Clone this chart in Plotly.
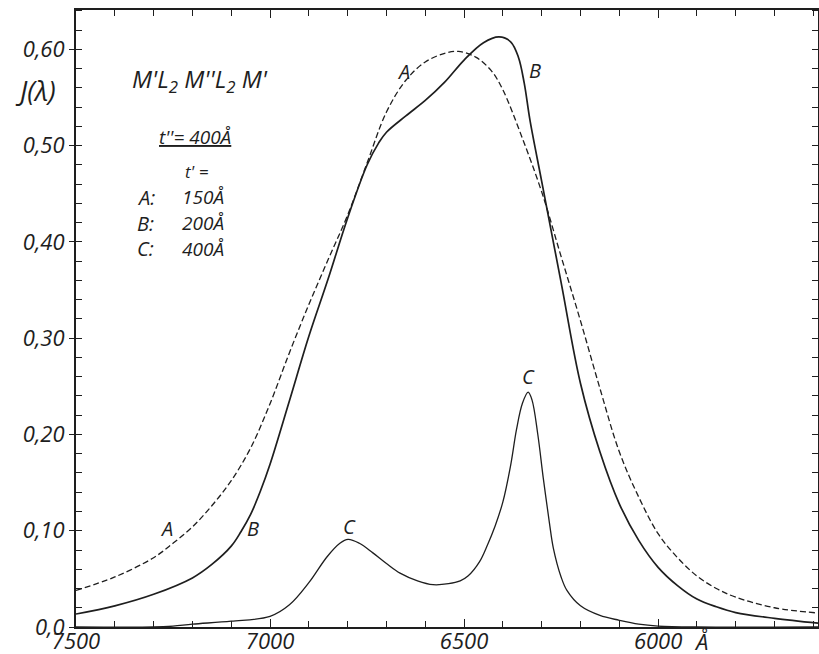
import plotly.graph_objects as go

# ---- data (wavelength in Å, intensity J) ----
lam_A = [7500, 7400, 7300, 7250, 7200, 7150, 7100, 7050, 7000, 6950, 6900, 6850, 6800, 6750,
         6700, 6650, 6600, 6550, 6515, 6470, 6430, 6400, 6350, 6300, 6250, 6200, 6150, 6100,
         6050, 6000, 5950, 5900, 5850, 5800, 5700, 5588]
J_A = [0.038, 0.052, 0.072, 0.087, 0.104, 0.126, 0.152, 0.186, 0.232, 0.285, 0.335, 0.382, 0.428, 0.482,
       0.535, 0.568, 0.587, 0.596, 0.598, 0.592, 0.578, 0.558, 0.508, 0.452, 0.385, 0.318, 0.248, 0.182,
       0.135, 0.097, 0.072, 0.053, 0.040, 0.031, 0.020, 0.0145]

lam_B = [7500, 7400, 7300, 7200, 7150, 7100, 7075, 7050, 7025, 7000, 6950, 6900, 6850, 6800, 6750, 6720,
         6700, 6650, 6600, 6550, 6500, 6450, 6410, 6380, 6360, 6345, 6330, 6300, 6250, 6200,
         6150, 6100, 6050, 6000, 5950, 5900, 5850, 5800, 5700, 5588]
J_B = [0.0135, 0.022, 0.034, 0.051, 0.065, 0.084, 0.099, 0.117, 0.141, 0.169, 0.235, 0.302, 0.362, 0.425, 0.480, 0.503,
       0.514, 0.531, 0.547, 0.566, 0.589, 0.607, 0.613, 0.608, 0.592, 0.565, 0.526, 0.463, 0.358, 0.253,
       0.182, 0.128, 0.090, 0.062, 0.043, 0.029, 0.021, 0.015, 0.009, 0.004]

lam_C = [7500, 7300, 7250, 7200, 7100, 7000, 6950, 6900, 6853, 6820, 6799, 6770, 6735, 6700,
         6665, 6620, 6580, 6540, 6510, 6490, 6460, 6440, 6420, 6400, 6380, 6365, 6350, 6335,
         6325, 6310, 6296, 6280, 6270, 6250, 6235, 6200, 6150, 6100, 6050, 6000, 5900, 5588]
J_C = [0.0, 0.0, 0.001, 0.003, 0.006, 0.011, 0.023, 0.046, 0.073, 0.087, 0.091, 0.087, 0.077, 0.066,
       0.056, 0.048, 0.044, 0.045, 0.048, 0.053, 0.068, 0.085, 0.105, 0.130, 0.168, 0.205, 0.232, 0.244,
       0.236, 0.200, 0.155, 0.108, 0.082, 0.052, 0.038, 0.022, 0.012, 0.007, 0.003, 0.001, 0.0, 0.0]

y_ticks = [0.0, 0.1, 0.2, 0.3, 0.4, 0.5, 0.6]
y_ticklabels = ["0,0", "0,10", "0,20", "0,30", "0,40", "0,50", "0,60"]
x_ticks = [7500, 7000, 6500, 6000]
x_ticklabels = ["7500", "7000", "6500", "6000"]

FONT = "Open Sans, DejaVu Sans"
INK = "#1e1e1e"

fig = go.Figure()
fig.add_trace(go.Scatter(x=lam_A, y=J_A, mode="lines", name="A",
                         line=dict(color=INK, width=1.3, dash="6px,3px", shape="spline", smoothing=1.0)))
fig.add_trace(go.Scatter(x=lam_B, y=J_B, mode="lines", name="B",
                         line=dict(color=INK, width=1.7, shape="spline", smoothing=1.0)))
fig.add_trace(go.Scatter(x=lam_C, y=J_C, mode="lines", name="C",
                         line=dict(color=INK, width=1.3, shape="spline", smoothing=1.0)))

tickfont = dict(family=FONT, size=22, color=INK, style="italic")

fig.update_xaxes(range=[7500, 5588], autorange=False, automargin=False,
                 tickmode="array", tickvals=x_ticks, ticktext=x_ticklabels,
                 ticks="inside", ticklen=8, tickwidth=1.2, tickcolor=INK,
                 minor=dict(tickmode="linear", tick0=7500, dtick=100, ticks="inside", ticklen=6,
                            tickwidth=1.2, tickcolor=INK),
                 showline=True, linewidth=2, linecolor=INK, mirror="ticks",
                 showgrid=False, zeroline=False, tickfont=tickfont, ticklabelstandoff=-6)
fig.update_yaxes(range=[0, 0.641], autorange=False, automargin=False,
                 tickmode="array", tickvals=y_ticks, ticktext=y_ticklabels,
                 ticks="outside", ticklen=5, tickwidth=1.2, tickcolor=INK,
                 minor=dict(tickmode="linear", tick0=0, dtick=0.02, ticks="inside", ticklen=6,
                            tickwidth=1.2, tickcolor=INK),
                 showline=True, linewidth=2, linecolor=INK, mirror="ticks",
                 showgrid=False, zeroline=False, tickfont=tickfont)

W, H = 819, 654
L, R, T, B = 76, 1, 10, 27
pw, ph = W - L - R, H - T - B

def ann(text, xp, yp, size, xanchor="center"):
    fig.add_annotation(text=text, x=(xp - L) / pw, y=(H - B - yp) / ph,
                       xref="paper", yref="paper", showarrow=False,
                       xanchor=xanchor, yanchor="middle",
                       font=dict(family=FONT, size=size, color=INK, style="italic"))

for text, xp, yp, size, anchor in [
    ("J(λ)", 35, 90, 27, "center"),
    ("M'L<sub>2</sub> M''L<sub>2</sub> M'", 200, 80, 24, "center"),
    ("<span style='text-decoration:underline'>t''= 400Å</span>", 195, 137, 19, "center"),
    ("t' =", 197, 172, 17, "center"),
    ("A:", 135, 197, 20, "left"),
    ("150Å", 180, 197, 19, "left"),
    ("B:", 135, 223, 20, "left"),
    ("200Å", 180, 223, 19, "left"),
    ("C:", 135, 249, 20, "left"),
    ("400Å", 180, 249, 19, "left"),
    ("A", 166, 528, 20, "center"),
    ("B", 253, 528, 20, "center"),
    ("C", 349, 526, 20, "center"),
    ("C", 528, 376, 20, "center"),
    ("A", 403, 71, 20, "center"),
    ("B", 535, 70, 20, "center"),
    ("Å", 701, 641, 22, "center"),
]:
    ann(text, xp, yp, size, anchor)

fig.update_layout(width=W, height=H, margin=dict(l=L, r=R, t=T, b=B),
                  paper_bgcolor="white", plot_bgcolor="white", showlegend=False)

fig.write_html("out.html")
